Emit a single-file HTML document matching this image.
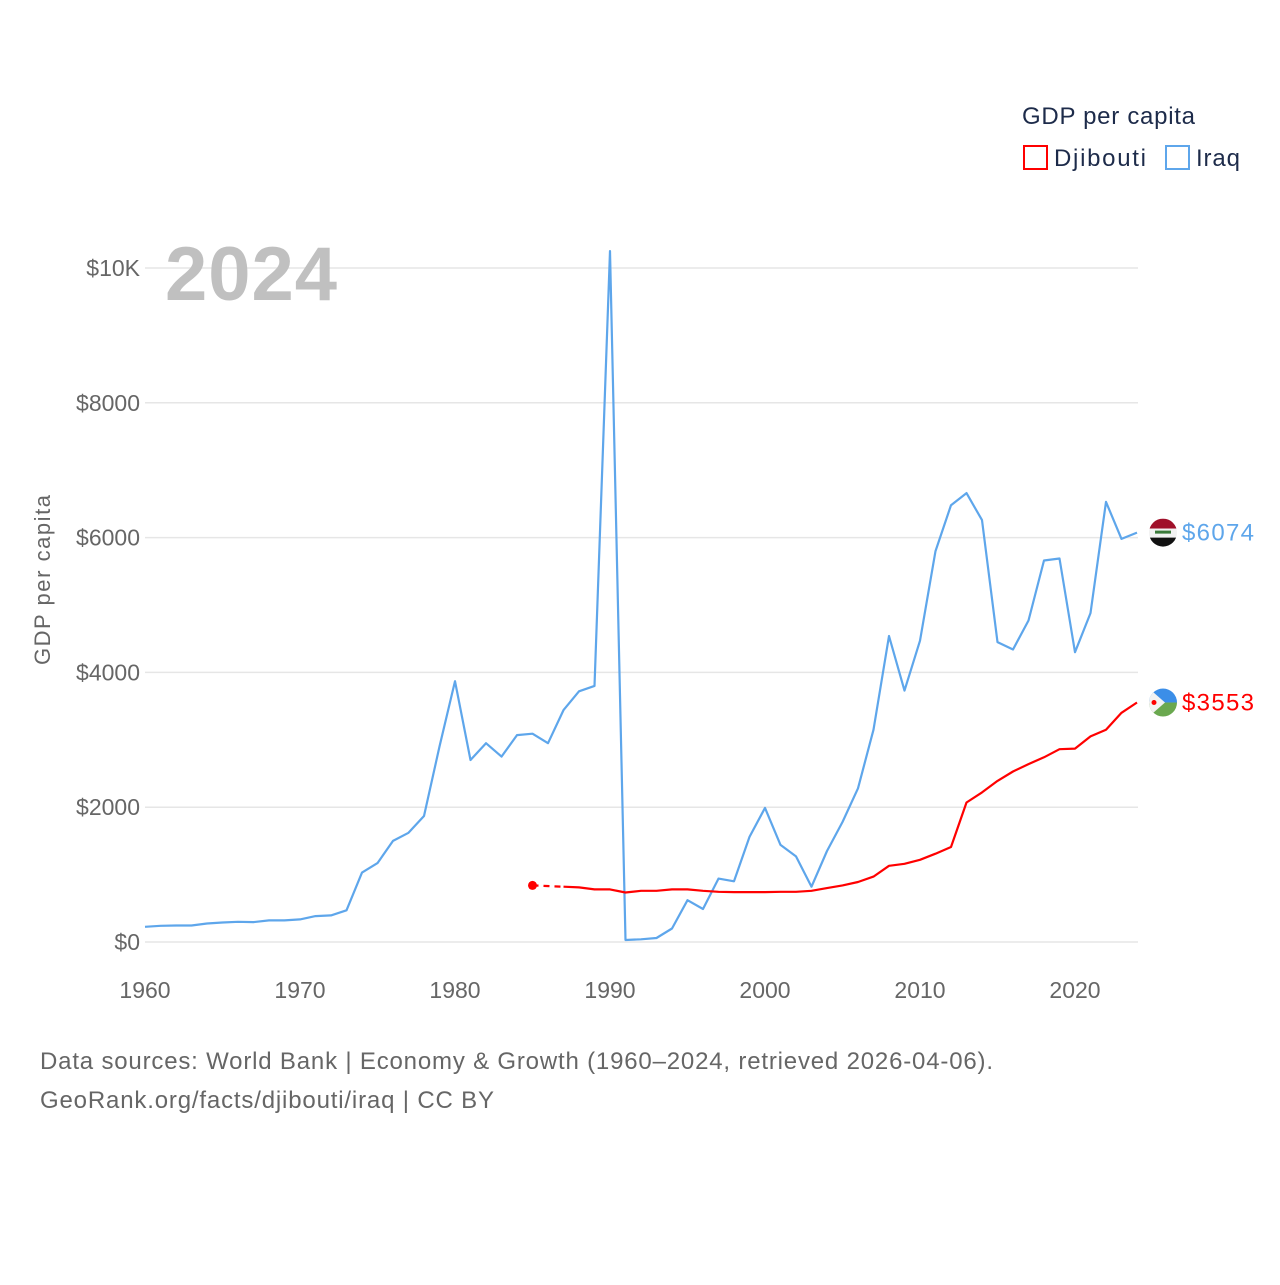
<!DOCTYPE html>
<html><head><meta charset="utf-8"><style>
body{margin:0;background:#fff;font-family:"Liberation Sans",sans-serif}
svg text{font-family:"Liberation Sans",sans-serif}
</style></head><body>
<svg width="1280" height="1280" viewBox="0 0 1280 1280" id="chart">
<rect width="1280" height="1280" fill="#fff"/>
<g id="grid"></g>
<text x="165" y="300" font-size="76" font-weight="bold" fill="#c0c0c0" textLength="172">2024</text>
<text x="50" y="580" font-size="22" fill="#666" text-anchor="middle" transform="rotate(-90 50 580)" textLength="170">GDP per capita</text>
<g id="series"></g>
<g>
<text x="1022" y="124" font-size="24" fill="#1d2b4a" textLength="173">GDP per capita</text>
<g><rect x="1024" y="146" width="23" height="23" fill="none" stroke="red" stroke-width="2"/><text x="1054" y="166" font-size="24" fill="#1d2b4a" textLength="92">Djibouti</text></g>
<g><rect x="1166" y="146" width="23" height="23" fill="none" stroke="#5ea6eb" stroke-width="2"/><text x="1196" y="166" font-size="24" fill="#1d2b4a" textLength="44">Iraq</text></g>
</g>
<text x="40" y="1069" font-size="24" fill="#666" textLength="953">Data sources: World Bank | Economy &amp; Growth (1960–2024, retrieved 2026-04-06).</text>
<text x="40" y="1108" font-size="24" fill="#666" textLength="454">GeoRank.org/facts/djibouti/iraq | CC BY</text>
</svg>
<script>
const iraqYears=[];for(let y=1960;y<=2024;y++)iraqYears.push(y);
const iraqValues=[225,240,245,245,275,290,300,295,320,320,335,385,395,470,1030,1170,1500,1620,1870,2900,3870,2700,2950,2750,3070,3090,2950,3440,3720,3800,10250,30,40,60,200,620,490,940,900,1560,1990,1440,1270,820,1350,1780,2280,3150,4540,3730,4470,5800,6480,6660,6260,4450,4340,4770,5660,5690,4300,4880,6530,5980,6074];
const djYears=[1985,1987,1988,1989,1990,1991,1992,1993,1994,1995,1996,1997,1998,1999,2000,2001,2002,2003,2004,2005,2006,2007,2008,2009,2010,2011,2012,2013,2014,2015,2016,2017,2018,2019,2020,2021,2022,2023,2024];
const djValues=[840,820,810,780,780,735,760,760,780,780,760,745,740,740,740,745,745,760,800,840,890,970,1130,1160,1220,1310,1410,2070,2220,2390,2530,2640,2740,2860,2870,3050,3150,3400,3553];
const yTicks=[0,2000,4000,6000,8000,10000];
const yTickLabels=["$0","$2000","$4000","$6000","$8000","$10K"];
const xTicks=[1960,1970,1980,1990,2000,2010,2020];
const NS="http://www.w3.org/2000/svg";
const X=y=>145+(y-1960)*15.5;
const Y=v=>942-v*0.0674;
const grid=document.getElementById('grid'),series=document.getElementById('series');
function mk(tag,attrs,parent){const e=document.createElementNS(NS,tag);for(const k in attrs)e.setAttribute(k,attrs[k]);parent.appendChild(e);return e;}
yTicks.forEach((t,i)=>{
 const l=mk('line',{x1:145,x2:1138,y1:Y(t),y2:Y(t),stroke:'#e6e6e6','stroke-width':1.5},grid);
 
 
 const tx=mk('text',{x:140,y:Y(t)+8,'font-size':23,fill:'#666','text-anchor':'end'},grid);
 tx.textContent=yTickLabels[i];
 
 
});
xTicks.forEach(t=>{
 const tx=mk('text',{x:X(t),y:998,'font-size':23,fill:'#666','text-anchor':'middle'},grid);
 tx.textContent=t;
 
 
});
const pts=(ys,vs)=>ys.map((y,i)=>X(y).toFixed(1)+','+Y(vs[i]).toFixed(1)).join(' ');
const iq=mk('polyline',{points:pts(iraqYears,iraqValues),fill:'none',stroke:'#5ea6eb','stroke-width':2.2,'stroke-linejoin':'round'},series);


const dd=mk('line',{x1:X(djYears[0]),y1:Y(djValues[0]),x2:X(djYears[1]),y2:Y(djValues[1]),stroke:'red','stroke-width':2.2,'stroke-dasharray':'6,5'},series);


const dj=mk('polyline',{points:pts(djYears.slice(1),djValues.slice(1)),fill:'none',stroke:'red','stroke-width':2.2,'stroke-linejoin':'round'},series);


const dot=mk('circle',{cx:X(djYears[0]),cy:Y(djValues[0]),r:4.5,fill:'red'},series);


const li=iraqValues.length-1,ld=djValues.length-1;
const iy=Y(iraqValues[li]),dy=Y(djValues[ld]);
const fi=mk('g',{},series);


const ci=mk('clipPath',{id:'ci'},fi);mk('circle',{cx:1163,cy:iy,r:14},ci);
const gi=mk('g',{'clip-path':'url(#ci)'},fi);
mk('rect',{x:1149,y:iy-14,width:28,height:10,fill:'#a0102a'},gi);
mk('rect',{x:1149,y:iy-4,width:28,height:9,fill:'#f2f2f2'},gi);
mk('rect',{x:1149,y:iy+5,width:28,height:10,fill:'#111'},gi);
mk('rect',{x:1155,y:iy-2,width:16,height:3,fill:'#3a7a3a'},gi);
const fd=mk('g',{},series);


const cd=mk('clipPath',{id:'cd'},fd);mk('circle',{cx:1163,cy:dy,r:14},cd);
const gd=mk('g',{'clip-path':'url(#cd)'},fd);
mk('rect',{x:1149,y:dy-14,width:28,height:14,fill:'#3b8ee8'},gd);
mk('rect',{x:1149,y:dy,width:28,height:14,fill:'#6aa84f'},gd);
mk('polygon',{points:`1149,${dy-14} 1165,${dy} 1149,${dy+14}`,fill:'#f2f2f2'},gd);
mk('circle',{cx:1154,cy:dy,r:2.5,fill:'red'},gd);
const ti=mk('text',{x:1182,y:iy+8,'font-size':24,fill:'#5ea6eb',textLength:72},series);
ti.textContent='$'+iraqValues[li];


const td=mk('text',{x:1182,y:dy+8,'font-size':24,fill:'red',textLength:72},series);
td.textContent='$'+djValues[ld];


</script>
</body></html>
